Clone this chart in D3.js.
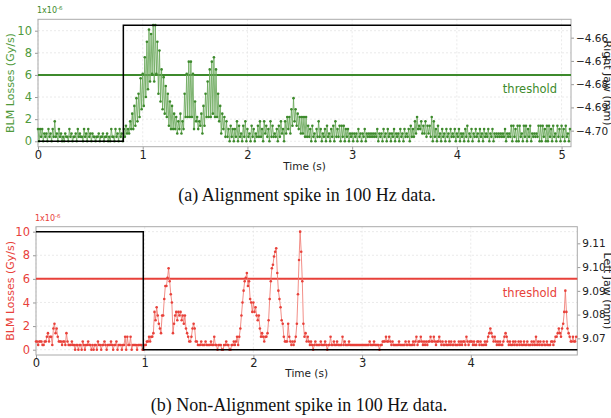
<!DOCTYPE html>
<html>
<head>
<meta charset="utf-8">
<script src="https://cdn.jsdelivr.net/npm/d3@7"></script>
<style>
  body { margin: 0; background: #fff; }
  svg { display: block; }
</style>
</head>
<body>
<div id="chart"></div>
<script>
var width = 611;
var height = 418;

// 100 Hz samples, losses in units of 1e-6 Gy/s
var sampleRate = 100;

var alignLosses = [
  1.1,0,1.1,0.4,1.1,0,0.7,0.4,0.7,0,1.1,0.4,0.7,0,1.1,0.4,1.8,0.4,0.7,0,
  1.1,0.4,0.7,0,0.4,0,0.7,0.4,0.4,0,1.1,0.4,0.7,0,0.4,0.4,0.7,0,1.1,0.4,
  0.7,0.4,0.4,0,1.1,0.4,0.7,0,1.1,0.4,0.7,0,0.7,0.4,0.4,0,0.4,0.4,0.7,0,
  0.4,0.4,0.7,0,0.4,0.4,0.7,0,0.4,0,1.1,0.4,0.4,0,1.1,0.4,0.7,0,1.1,0.4,
  0.7,0,1.1,0.4,1.4,0.7,1.1,0.7,1.8,1.1,2.5,1.1,3.2,1.4,3.9,1.8,4.3,2.2,5.7,2.9,
  6.1,3.2,7.6,4.0,9.0,4.7,10.1,5.4,9.7,6.1,10.5,5.4,10.5,6.1,9.0,4.3,8.2,3.6,6.5,2.9,
  5.8,2.5,5.0,2.2,4.3,1.4,3.6,1.1,3.2,1.1,2.5,1.1,2.2,0.7,1.8,1.1,2.5,0.7,1.8,1.1,
  4.3,2.2,6.1,2.2,7.2,2.2,7.2,2.2,6.1,1.1,3.6,1.8,2.2,1.1,1.8,1.4,2.5,0.7,3.2,1.4,
  4.3,2.2,5.4,2.2,6.5,2.2,7.2,2.5,7.6,2.2,6.5,2.2,4.3,1.8,3.2,0.7,2.5,1.1,2.2,0.4,
  1.8,0.4,1.1,0,1.4,0.4,1.1,0,1.1,0.4,1.8,0,1.4,0.4,0.7,0,1.4,0.4,1.8,0,
  1.1,0.4,0.7,0,1.4,0.4,1.1,0,0.7,0.4,1.4,0.4,1.8,0.4,1.1,0,1.8,0.7,1.4,0.4,
  1.1,0,1.8,0.4,1.4,0.4,0.7,0.4,1.1,0,1.4,0.4,1.8,0.7,1.1,0,1.8,0.7,2.2,1.1,
  2.2,0.7,2.9,1.4,3.9,1.8,2.9,1.4,2.5,1.1,2.2,0.7,2.2,0.7,2.2,0.4,2.2,0.4,1.4,0.4,
  1.1,0,1.4,0.4,0.7,0,1.1,0.4,1.8,0.4,1.1,0,0.7,0.4,1.1,0,1.4,0.4,0.7,0,
  1.1,0.4,1.4,0,1.8,0.4,1.1,0.4,1.4,0,1.4,0.4,1.4,0,1.1,0.4,1.1,0,0.7,0.4,
  0.7,0,0.7,0.4,0.7,0,1.1,0.4,0.7,0,0.7,0.4,1.1,0,0.7,0.4,0.7,0.4,0.7,0.4,
  0.7,0.4,0.7,0.4,1.1,0,0.7,0.4,0.7,0,1.1,0.4,0.7,0,1.1,0.4,0.7,0,0.7,0.4,
  1.1,0,0.7,0.4,0.7,0,1.1,0.4,0.7,0,1.1,0.4,0.7,0.4,1.1,0,1.4,0.4,1.1,0.4,
  1.8,0.7,2.2,1.1,1.4,1.1,1.8,0.7,1.4,0.7,1.8,0.4,1.4,0.7,1.4,0.4,2.2,0,1.8,0.4,
  1.1,0,1.4,0.4,0.7,0,1.1,0.4,0.7,0,1.1,0.4,0.7,0,1.1,0.4,0.7,0.4,1.1,0,
  0.7,0.4,1.1,0,0.7,0.4,0.7,0,1.1,0.4,1.4,0,0.7,0.4,1.1,0,0.7,0.4,1.1,0.4,
  0.7,0,1.1,0.4,0.7,0,1.1,0.4,0.7,0.4,1.1,0,0.7,0.4,1.1,0,0.7,0.4,0.7,0.4,
  0.7,0.4,0.7,0.4,0.7,0.4,1.1,0,0.7,0.4,0.7,0.4,1.4,0,1.4,0.4,1.1,0,1.4,0,
  1.4,0.4,0.7,0,1.4,0.4,1.4,0,1.1,0.4,1.4,0,0.7,0.4,0.7,0.4,0.7,0.4,1.4,0,
  1.4,0,1.4,0.4,1.1,0,1.4,0,1.4,0.4,1.1,0,1.4,0.4,0.7,0,1.4,0.4,1.1,0,
  1.4,0.4,1.1,0,1.4,0.4,0.7,0,1.1
];
var alignJawTime = [0, 0.815, 0.815, 5.09];
var alignJawPos = [-4.7046, -4.7046, -4.6547, -4.6547];

var nonAlignLosses = [
  0.7,0.7,0.4,0.7,0.7,0.7,0.4,0.4,0.7,0.7,1.1,1.4,0.7,1.1,1.1,0.4,1.8,2.2,1.4,1.8,
  1.1,0.7,0.7,0.7,0.4,0.7,0.7,0.4,1.4,0.7,0.4,0.4,0.4,0.7,0.4,0.4,0,0.4,0.4,0,
  0.4,0.4,0,0.7,0.4,0,0.4,0.4,0.7,0.4,0.4,0,0.4,0,0.4,0.4,0,0.7,0.4,0.4,
  0,0.4,0.4,0.7,0.4,0,0.4,0.4,0.4,0.7,0.4,0,0.4,0.4,0.7,0,0.4,0.4,0.4,0,
  0.4,0.4,1.1,0,1.1,0.4,0.4,1.1,0,0.4,0.4,0.4,0.4,0,0.4,0.4,0.4,0.4,0,0,
  0.4,0.4,0.7,0.7,1.1,0.7,1.1,1.1,1.4,3.2,2.5,3.6,2.9,2.2,1.8,1.4,2.9,2.9,4.3,5.4,
  5.4,6.1,6.9,5.8,4.7,4.0,1.4,2.2,2.9,3.2,2.5,3.2,2.9,3.2,2.5,2.9,2.2,2.9,1.8,1.4,
  1.1,0.7,0.7,1.1,1.8,2.2,1.8,0.7,0.7,0.4,0.4,0.4,0.7,0.4,0.4,0.4,0.7,0.4,0.4,0.4,
  0.4,0.7,0.4,0.4,1.1,0.4,0.4,0,0.4,0.4,0.4,0,0,0.4,0.4,0.7,0.4,0.4,0,0,
  0.4,0.4,0.7,0.4,0.7,1.1,0.4,1.1,1.8,2.9,4.0,5.0,5.8,6.1,6.5,5.4,5.8,4.3,4.0,3.2,
  4.0,3.2,3.6,2.9,2.5,2.9,1.8,1.1,1.4,1.1,0.7,1.1,1.1,1.4,2.5,4.3,5.8,6.9,7.2,7.9,
  8.3,8.6,6.5,5.0,4.3,3.6,2.5,2.2,1.1,0.7,0.7,0.7,2.2,1.1,0.7,0.4,0.7,0.4,0.7,1.1,
  2.2,4.7,7.6,10.0,8.3,5.8,2.2,1.1,1.4,0.7,1.1,0.7,0.4,0.7,0.4,0,0.4,0.7,0.4,0.4,
  0.4,0.4,0.7,0.4,0.4,0.4,0.7,0.4,0,0.4,0.4,1.1,0.4,0.4,0.7,0.4,0.4,0.7,0.4,0.4,
  0.4,0.4,1.1,0.4,0.7,0.4,0.4,0.4,0.7,0.4,0.4,0.4,0.4,0.4,0.4,0.4,0.4,0.4,0.4,0.4,
  0.4,0.4,0.4,0.4,0.4,0.4,0.4,0.7,0.4,0.4,0.4,0.7,0.4,0.4,0.4,0.4,0,0.4,0.4,0.7,
  0.7,0.7,1.1,0.7,0.7,1.1,0.7,0.4,0.7,0.4,0.4,0.4,0.4,0.4,0.7,0.4,0.4,0.4,0.4,0.4,
  0.7,0.4,0.4,0.7,0.4,0.4,0.4,0.7,0.4,0.7,1.1,0.4,0.7,0.7,1.1,0.7,0.4,0.7,0.4,0.7,
  0.4,0.7,0.7,1.1,0.7,0.7,1.1,0.7,0.4,0.7,0.7,1.1,0.7,0.4,0.7,0.4,0.4,0.7,0.4,0.4,
  0.7,0.4,0.7,0.4,0.4,0.7,0.4,0.4,0.4,0.7,0.4,0.7,0.4,0.7,0.7,0.4,1.1,0.7,0.4,0.7,
  0.7,0.7,0.4,0.7,0.4,0.4,0.7,0.7,0.4,0.7,0.4,0.4,0.4,0.7,0.4,0.7,1.1,1.4,1.8,1.4,
  1.1,0.7,1.1,0.7,0.4,0.7,0.4,0.7,0.4,0.4,0.7,1.1,1.4,1.1,0.7,0.4,0.7,0.4,0.4,0.7,
  0.4,0.7,0.4,0.4,0.7,0.4,0.7,0.4,0.4,0.7,0.4,0.4,0.7,0.4,0.4,0.4,0.7,0.4,0.7,0.4,
  1.1,0.4,0.7,0.4,0.7,0.4,0.4,0.7,0.4,0.4,0.7,0.4,0.4,0.4,0.7,0.7,0.4,0.7,1.1,1.1,
  1.4,1.8,1.4,1.1,1.8,2.2,3.2,5.0,3.2,1.8,1.4,1.1,0.7,0.7,1.1,0.7,0.7,1.1
];
var nonAlignJawTime = [0, 0.987, 0.987, 4.98];
var nonAlignJawPos = [9.1149, 9.1149, 9.0652, 9.0652];

var lossTicks = [0, 2, 4, 6, 8, 10];
var alignTimeTicks = [0, 1, 2, 3, 4, 5];
var nonAlignTimeTicks = [0, 1, 2, 3, 4];
var alignJawTicks = [-4.70, -4.69, -4.68, -4.67, -4.66];
var nonAlignJawTicks = [9.07, 9.08, 9.09, 9.10, 9.11];
var threshold = 6;

var panels = [
  {
    losses: alignLosses, jawTime: alignJawTime, jawPos: alignJawPos,
    timeTicks: alignTimeTicks, jawTicks: alignJawTicks,
    left: 38, right: 571, top: 19.3, bottom: 146.7,
    tMax: 5.09, lossDomain: [-0.49, 11.03], jawDomain: [-4.7069, -4.6521],
    colour: "#3d8a2c", lineColour: "#6aa85a", tick: "#4f9a3c",
    jawLabel: "Right Jaw (mm)", caption: "(a) Alignment spike in 100 Hz data.",
    captionX: 307, captionY: 201, timeLabelY: 170, thresholdLabelY: 93
  },
  {
    losses: nonAlignLosses, jawTime: nonAlignJawTime, jawPos: nonAlignJawPos,
    timeTicks: nonAlignTimeTicks, jawTicks: nonAlignJawTicks,
    left: 36, right: 577.3, top: 226.7, bottom: 355,
    tMax: 4.98, lossDomain: [-0.45, 10.42], jawDomain: [9.063, 9.117],
    colour: "#e8413a", lineColour: "#f07a72", tick: "#e8413a",
    jawLabel: "Left Jaw (mm)", caption: "(b) Non-Alignment spike in 100 Hz data.",
    captionX: 299, captionY: 411, timeLabelY: 377, thresholdLabelY: 297
  }
];

var svg = d3.select("#chart").append("svg")
  .attr("width", width)
  .attr("height", height)
  .attr("viewBox", "0 0 " + width + " " + height);

var sans = "DejaVu Sans, sans-serif";

var drawPanel = function(p) {
  var x = d3.scaleLinear().domain([0, p.tMax]).range([p.left, p.right]);
  var y = d3.scaleLinear().domain(p.lossDomain).range([p.bottom, p.top]);
  var yJaw = d3.scaleLinear().domain(p.jawDomain).range([p.bottom, p.top]);

  var g = svg.append("g");

  // grid
  g.append("g").selectAll("line").data(p.timeTicks).enter().append("line")
    .attr("x1", function(d){ return x(d); }).attr("x2", function(d){ return x(d); })
    .attr("y1", p.top).attr("y2", p.bottom)
    .attr("stroke", "#e4e4e4").attr("stroke-width", 0.8).attr("stroke-dasharray", "2,2");
  g.append("g").selectAll("line").data(lossTicks).enter().append("line")
    .attr("y1", function(d){ return y(d); }).attr("y2", function(d){ return y(d); })
    .attr("x1", p.left).attr("x2", p.right)
    .attr("stroke", "#e4e4e4").attr("stroke-width", 0.8).attr("stroke-dasharray", "2,2");

  // axes
  var xAxis = g.append("g")
    .attr("transform", "translate(0," + p.bottom + ")")
    .call(d3.axisBottom(x).tickValues(p.timeTicks).tickFormat(d3.format("d")).tickSize(3).tickPadding(1));
  xAxis.selectAll("text").attr("fill", "#222").style("font", "11.5px " + sans);

  var yAxis = g.append("g")
    .attr("transform", "translate(" + p.left + ",0)")
    .call(d3.axisLeft(y).tickValues(lossTicks).tickFormat(d3.format("d")).tickSize(3).tickPadding(3));
  yAxis.selectAll("text").attr("fill", p.tick).style("font", "11.5px " + sans);

  var jawAxis = g.append("g")
    .attr("transform", "translate(" + p.right + ",0)")
    .call(d3.axisRight(yJaw).tickValues(p.jawTicks).tickFormat(d3.format(".2f")).tickSize(3).tickPadding(2));
  jawAxis.selectAll("text").attr("fill", "#222").style("font", "10.5px " + sans);

  [xAxis, yAxis, jawAxis].forEach(function(a){
    a.select(".domain").remove();
    a.selectAll(".tick line").attr("stroke", "#999");
  });

  // frame
  g.append("rect")
    .attr("x", p.left).attr("y", p.top)
    .attr("width", p.right - p.left).attr("height", p.bottom - p.top)
    .attr("fill", "none").attr("stroke", "#aaa").attr("stroke-width", 1);

  // threshold
  g.append("line")
    .attr("x1", p.left).attr("x2", p.right)
    .attr("y1", y(threshold)).attr("y2", y(threshold))
    .attr("stroke", p.colour).attr("stroke-width", 2);
  g.append("text")
    .attr("x", 557).attr("y", p.thresholdLabelY)
    .attr("text-anchor", "end")
    .attr("fill", p.colour)
    .style("font", "11.5px " + sans)
    .text("threshold");

  // losses
  var pts = p.losses.map(function(v, i){ return [i / sampleRate, v]; });
  var line = d3.line().x(function(d){ return x(d[0]); }).y(function(d){ return y(d[1]); });
  g.append("path").datum(pts)
    .attr("d", line)
    .attr("fill", "none")
    .attr("stroke", p.lineColour)
    .attr("stroke-opacity", 0.85)
    .attr("stroke-width", 1);
  g.append("g").selectAll("circle").data(pts).enter().append("circle")
    .attr("cx", function(d){ return x(d[0]); })
    .attr("cy", function(d){ return y(d[1]); })
    .attr("r", 1.3)
    .attr("fill", p.colour);

  // jaw position
  var jawPts = p.jawTime.map(function(t, i){ return [t, p.jawPos[i]]; });
  g.append("path").datum(jawPts)
    .attr("d", d3.line().x(function(d){ return x(d[0]); }).y(function(d){ return yJaw(d[1]); }))
    .attr("fill", "none").attr("stroke", "#000").attr("stroke-width", 1.5);

  // labels
  g.append("text")
    .attr("transform", "translate(14," + ((p.top + p.bottom) / 2) + ") rotate(-90)")
    .attr("text-anchor", "middle")
    .attr("fill", p.tick)
    .style("font", "11px " + sans)
    .text("BLM Losses (Gy/s)");

  var mult = g.append("text")
    .attr("x", p.left - 1).attr("y", p.top - 6)
    .attr("fill", p.colour)
    .style("font", "8px " + sans);
  mult.append("tspan").text("1x10");
  mult.append("tspan").attr("dy", -3).style("font-size", "5.5px").text("-6");

  g.append("text")
    .attr("transform", "translate(604," + ((p.top + p.bottom) / 2) + ") rotate(90)")
    .attr("text-anchor", "middle")
    .attr("fill", "#222")
    .style("font", "11px " + sans)
    .text(p.jawLabel);

  g.append("text")
    .attr("x", (p.left + p.right) / 2 + 0).attr("y", p.timeLabelY)
    .attr("text-anchor", "middle")
    .attr("fill", "#222")
    .style("font", "10.5px " + sans)
    .text("Time (s)");

  g.append("text")
    .attr("x", p.captionX).attr("y", p.captionY)
    .attr("text-anchor", "middle")
    .attr("fill", "#111")
    .style("font", "18px 'Liberation Serif', 'Times New Roman', serif")
    .text(p.caption);
};

panels.forEach(drawPanel);
</script>
</body>
</html>
